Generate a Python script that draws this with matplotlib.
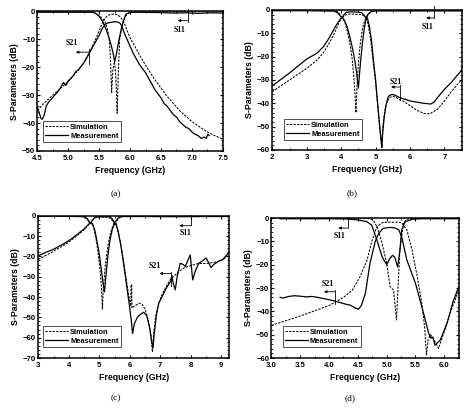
import matplotlib
matplotlib.use('Agg')
import matplotlib.pyplot as plt
from matplotlib.ticker import MultipleLocator, AutoMinorLocator

plt.rcParams['font.family'] = 'Liberation Sans'
plt.rcParams['font.weight'] = 'bold'

# ---------------- panel (a) ----------------
a_f_m21 = [4.50, 4.53, 4.56, 4.58, 4.61, 4.64, 4.68, 4.72, 4.78, 4.84, 4.88, 4.92, 4.96, 5.00,
           5.04, 5.08, 5.12, 5.16, 5.20, 5.25, 5.30, 5.35, 5.40, 5.45, 5.50, 5.54, 5.58, 5.62,
           5.66, 5.70, 5.75, 5.80, 5.84, 5.87, 5.90, 5.95, 6.00, 6.05, 6.10, 6.15, 6.20, 6.25,
           6.30, 6.35, 6.40, 6.45, 6.50, 6.55, 6.60, 6.65, 6.70, 6.75, 6.80, 6.85, 6.90, 6.95,
           7.00, 7.05, 7.10, 7.15, 7.20, 7.23, 7.26, 7.28]
a_m21 = [-34.5, -36.5, -38.5, -38.6, -37.0, -34.0, -32.5, -31.5, -30.0, -28.5, -27.0, -25.5, -26.5, -24.8,
         -24.0, -23.0, -21.5, -21.0, -19.8, -18.5, -16.5, -14.5, -12.5, -10.5, -8.5, -6.5, -5.0, -4.3,
         -4.0, -3.9, -3.7, -3.8, -4.3, -5.5, -7.5, -10.0, -12.5, -15.0, -17.0, -19.0, -20.5, -22.0,
         -24.0, -26.0, -28.0, -29.5, -31.0, -33.0, -34.0, -35.5, -37.0, -37.8, -39.5, -40.5, -41.5, -42.0,
         -43.2, -44.0, -44.5, -45.5, -45.0, -45.5, -44.0, -44.5]
a_f_s21 = [4.5, 4.6, 4.7, 4.8, 4.9, 5.0, 5.1, 5.2, 5.3, 5.4, 5.45, 5.5, 5.55, 5.6, 5.65, 5.7, 5.75,
           5.8, 5.85, 5.9, 5.95, 6.0, 6.1, 6.2, 6.3, 6.4, 6.5, 6.6, 6.7, 6.8, 6.9, 7.0, 7.1, 7.2,
           7.3, 7.4, 7.5]
a_s21 = [-35.5, -33.0, -31.0, -29.0, -27.0, -25.0, -22.5, -20.0, -16.5, -12.0, -9.5, -6.8, -4.2, -2.2,
         -1.3, -1.0, -1.0, -1.2, -2.2, -4.0, -6.8, -9.5, -13.5, -17.5, -21.0, -24.5, -27.5, -30.5,
         -33.0, -35.5, -37.5, -39.5, -41.0, -42.5, -43.8, -44.8, -45.8]
a_f_m11 = [4.5, 5.0, 5.3, 5.40, 5.45, 5.50, 5.56, 5.62, 5.68, 5.72, 5.75, 5.78, 5.82, 5.86, 5.89,
           5.93, 6.0, 6.1, 6.5, 6.7, 6.9, 7.1, 7.3, 7.5]
a_m11 = [-0.3, -0.3, -0.3, -0.3, -0.8, -1.8, -3.8, -7.0, -11.0, -14.5, -18.0, -15.0, -10.0, -6.0, -3.5,
         -1.0, -0.4, -0.3, -0.4, -0.6, -0.5, -0.7, -0.5, -0.6]
a_f_s11 = [4.5, 5.0, 5.35, 5.42, 5.48, 5.54, 5.59, 5.63, 5.66, 5.68, 5.70, 5.72, 5.745, 5.765, 5.78,
           5.79, 5.805, 5.83, 5.87, 5.90, 5.93, 5.97, 6.05, 7.0, 7.5]
a_s11 = [0.0, -0.1, -0.2, -0.5, -1.2, -2.3, -3.6, -6.0, -10.0, -16.0, -29.0, -21.0, -18.0, -22.0, -30.0,
         -36.5, -24.0, -10.0, -5.0, -3.2, -1.6, -0.5, -0.2, -0.1, -0.1]

# ---------------- panel (b) ----------------
b_f_m21 = [2.0, 2.5, 3.0, 3.3, 3.5, 3.65, 3.8, 3.92, 4.02, 4.1, 4.18, 4.26, 4.33, 4.40, 4.45, 4.50,
           4.53, 4.57, 4.62, 4.67, 4.72, 4.76, 4.82, 4.88, 4.94, 5.0, 5.07, 5.12, 5.16, 5.18, 5.21,
           5.25, 5.3, 5.37, 5.45, 5.5, 5.6, 5.7, 5.8, 6.0, 6.2, 6.4, 6.6, 6.7, 6.8, 7.0, 7.2, 7.4, 7.5]
b_m21 = [-32.5, -27.0, -21.0, -18.5, -15.5, -12.0, -8.0, -5.0, -3.1, -4.5, -7.5, -12.0, -16.5, -22.0,
         -27.0, -33.5, -28.0, -21.0, -14.0, -8.0, -4.0, -3.3, -7.0, -13.0, -22.0, -30.0, -42.0, -50.0,
         -56.0, -59.0, -52.0, -46.0, -41.0, -37.0, -36.3, -36.2, -36.8, -37.6, -38.0, -39.0, -39.5,
         -40.0, -40.3, -39.5, -37.5, -34.0, -31.0, -27.5, -25.7]
b_f_s21 = [2.0, 2.5, 3.0, 3.3, 3.5, 3.7, 3.85, 3.95, 4.03, 4.1, 4.18, 4.26, 4.32, 4.37, 4.41, 4.43,
           4.46, 4.5, 4.55, 4.62, 4.68, 4.73, 4.78, 4.85, 4.92, 5.0, 5.07, 5.12, 5.16, 5.18, 5.21,
           5.25, 5.3, 5.4, 5.5, 5.6, 5.7, 5.8, 6.0, 6.2, 6.4, 6.5, 6.6, 6.8, 7.0, 7.2, 7.4, 7.5]
b_s21 = [-35.0, -30.0, -25.0, -21.5, -18.0, -13.0, -8.5, -5.0, -3.3, -5.0, -9.0, -15.0, -21.0, -29.0,
         -38.0, -44.0, -33.0, -23.0, -15.0, -8.0, -4.5, -3.3, -6.0, -12.0, -21.0, -31.0, -42.0, -50.0,
         -56.0, -58.0, -50.0, -45.0, -40.5, -37.5, -37.0, -37.5, -38.5, -39.0, -41.0, -43.0, -44.3,
         -44.5, -44.3, -42.5, -39.0, -35.0, -31.5, -30.0]
b_f_m11 = [2.0, 3.0, 3.8, 3.9, 3.97, 4.02, 4.07, 4.15, 4.3, 4.5, 4.6, 4.67, 4.72, 4.77, 4.85, 5.0,
           6.0, 7.0, 7.5]
b_m11 = [-0.3, -0.3, -0.5, -1.2, -2.5, -3.5, -2.2, -1.0, -0.8, -0.9, -1.2, -2.3, -3.5, -2.0, -0.8,
         -0.4, -0.4, -0.4, -0.4]
b_f_s11 = [2.0, 3.0, 3.8, 3.9, 3.97, 4.03, 4.1, 4.2, 4.4, 4.6, 4.67, 4.73, 4.78, 4.88, 5.0, 6.0, 7.5]
b_s11 = [0.0, 0.0, 0.0, -0.8, -2.0, -3.6, -2.3, -1.8, -1.8, -2.0, -2.6, -3.6, -2.0, -0.6, -0.1,
         -0.1, -0.1]

# ---------------- panel (c) ----------------
c_f_m21 = [3.0, 3.25, 3.5, 3.75, 4.0, 4.25, 4.5, 4.6, 4.7, 4.78, 4.85, 4.93, 5.0, 5.07, 5.12, 5.17,
           5.22, 5.28, 5.35, 5.42, 5.5, 5.55, 5.62, 5.7, 5.8, 5.9, 5.99, 6.05, 6.09, 6.15, 6.25,
           6.35, 6.45, 6.55, 6.65, 6.72, 6.76, 6.8, 6.88, 6.95, 7.05, 7.2, 7.33, 7.38, 7.42, 7.49,
           7.55, 7.65, 7.75, 7.82, 7.9, 7.98, 8.06, 8.15, 8.26, 8.4, 8.5, 8.58, 8.66, 8.75, 8.9,
           9.05, 9.25]
c_m21 = [-19.7, -18.0, -16.5, -14.5, -12.3, -9.5, -6.5, -5.0, -3.5, -4.0, -7.0, -13.0, -19.0, -27.0,
         -33.0, -37.5, -29.0, -20.0, -12.0, -7.0, -3.8, -4.2, -8.0, -14.0, -24.0, -35.0, -44.5, -52.0,
         -58.0, -53.0, -50.0, -48.5, -47.5, -49.0, -55.0, -62.0, -65.0, -58.0, -48.0, -43.0, -40.0,
         -35.5, -32.5, -29.5, -33.0, -36.5, -30.0, -23.4, -24.0, -25.0, -22.0, -19.3, -31.6, -27.0,
         -23.4, -22.0, -20.8, -23.0, -25.5, -24.0, -22.5, -21.5, -18.0]
c_f_s21 = [3.0, 3.5, 4.0, 4.5, 4.7, 4.8, 4.88, 4.95, 5.02, 5.07, 5.10, 5.13, 5.2, 5.28, 5.36, 5.44,
           5.5, 5.57, 5.65, 5.75, 5.85, 5.95, 6.03, 6.04, 6.06, 6.07, 6.1, 6.2, 6.3, 6.4, 6.5, 6.6,
           6.68, 6.74, 6.78, 6.85, 6.95, 7.05, 7.2, 7.35, 7.5, 7.65, 7.8, 8.0, 8.25, 8.5, 8.75, 9.0, 9.25]
c_s21 = [-21.5, -17.5, -13.0, -7.0, -3.5, -5.0, -10.0, -17.0, -26.0, -35.0, -46.0, -36.0, -24.0, -15.0,
         -9.0, -5.0, -3.5, -5.0, -10.0, -18.0, -28.0, -38.0, -44.5, -34.0, -34.0, -45.5, -45.0, -44.0,
         -43.0, -43.5, -46.0, -51.0, -58.0, -67.0, -58.0, -49.0, -43.0, -39.0, -34.5, -31.0, -29.0,
         -27.0, -25.5, -24.5, -23.5, -23.5, -23.0, -22.0, -19.5]
c_f_m11 = [3.0, 4.0, 4.5, 4.6, 4.67, 4.72, 4.78, 4.85, 5.0, 5.35, 5.42, 5.5, 5.57, 5.65, 5.8, 6.5,
           7.5, 8.5, 9.25]
c_m11 = [-0.3, -0.3, -0.5, -1.5, -3.0, -3.5, -2.0, -0.8, -0.5, -0.5, -1.5, -3.5, -2.0, -0.7, -0.4,
         -0.4, -0.5, -0.4, -0.4]
c_f_s11 = [3.0, 4.0, 4.5, 4.6, 4.67, 4.72, 4.78, 4.88, 5.0, 5.3, 5.4, 5.47, 5.52, 5.58, 5.66, 5.8,
           6.5, 9.25]
c_s11 = [0.0, 0.0, -0.3, -1.2, -3.2, -4.2, -2.2, -0.9, -0.6, -0.8, -1.8, -3.6, -4.5, -2.5, -0.9,
         -0.2, -0.1, -0.1]

# ---------------- panel (d) ----------------
d_f_m21 = [3.15, 3.2, 3.3, 3.4, 3.5, 3.6, 3.7, 3.8, 3.9, 4.0, 4.1, 4.2, 4.3, 4.365, 4.45, 4.51, 4.56,
           4.63, 4.71, 4.80, 4.86, 4.94, 5.06, 5.15, 5.21, 5.26, 5.35, 5.5, 5.61, 5.73, 5.77, 5.80,
           5.84, 5.88, 5.93, 6.05, 6.15, 6.25]
d_m21 = [-34.0, -34.3, -33.6, -33.3, -33.5, -33.8, -33.6, -34.0, -34.5, -35.0, -35.6, -36.3, -37.0,
         -37.3, -38.5, -39.1, -37.5, -32.3, -19.4, -10.1, -6.6, -4.4, -4.0, -4.3, -5.1, -8.0, -18.0,
         -28.0, -38.0, -49.4, -51.5, -51.0, -54.5, -53.5, -52.3, -45.0, -36.0, -29.5]
d_f_s21 = [3.0, 3.5, 4.0, 4.25, 4.4, 4.54, 4.66, 4.74, 4.83, 4.92, 5.0, 5.1, 5.2, 5.26, 5.35, 5.44,
           5.53, 5.61, 5.66, 5.69, 5.72, 5.76, 5.81, 5.86, 5.90, 5.99, 6.10, 6.25]
d_s21 = [-46.0, -42.0, -37.5, -34.0, -31.0, -25.0, -18.0, -10.1, -3.7, -2.0, -1.8, -1.8, -1.8, -2.0,
         -5.1, -13.7, -25.0, -36.6, -47.0, -58.7, -52.0, -50.0, -51.6, -54.0, -55.9, -49.4, -40.8, -31.0]
d_f_m11 = [3.15, 3.5, 4.0, 4.3, 4.5, 4.65, 4.74, 4.83, 4.92, 5.0, 5.05, 5.1, 5.14, 5.19, 5.23, 5.26,
           5.32, 5.45, 5.6, 6.0, 6.25]
d_m11 = [-0.3, -0.3, -0.3, -0.4, -0.8, -1.5, -3.0, -9.4, -16.6, -20.0, -17.5, -16.0, -16.8, -21.0,
         -13.7, -5.1, -1.6, -0.5, -0.3, -0.3, -0.3]
d_f_s11 = [3.0, 4.0, 4.6, 4.7, 4.76, 4.84, 4.92, 5.0, 5.06, 5.12, 5.17, 5.20, 5.23, 5.29, 5.35,
           5.5, 6.25]
d_s11 = [0.0, 0.0, -0.1, -0.3, -0.8, -4.0, -10.9, -19.4, -29.4, -30.9, -43.7, -28.0, -13.7, -2.3,
         -0.5, -0.1, 0.0]

panels = [
    dict(pos=[0.0801, 0.630, 0.396, 0.342], xlim=(4.5, 7.5), ylim=(-50, 0), xmaj=0.5, ymaj=10,
         xfmt='%.1f', data=(a_f_s21, a_s21, a_f_m21, a_m21, a_f_s11, a_s11, a_f_m11, a_m11),
         s21=((5.05, -11.4), 5.33, 5.12, -14.6, (-13.6, -18.8)),
         s11=((6.80, -6.6), 6.93, 6.77, -3.3, (0.8, -3.7)),
         leg=(0.03, 0.065), lab='(a)', labpos=(116, 194)),
    dict(pos=[0.5818, 0.6324, 0.4047, 0.3431], xlim=(2, 7.5), ylim=(-60, 0), xmaj=1, ymaj=10,
         xfmt='%d', data=(b_f_s21, b_s21, b_f_m21, b_m21, b_f_s11, b_s11, b_f_m11, b_m11),
         s21=((5.59, -30.9), 5.70, 5.45, -33.0, (-32.0, -38.6)),
         s11=((6.50, -7.2), 6.70, 6.47, -3.4, (1.5, -3.6)),
         leg=(0.062, 0.071), lab='(b)', labpos=(352, 193)),
    dict(pos=[0.0818, 0.1225, 0.4075, 0.3488], xlim=(3, 9.25), ylim=(-70, 0), xmaj=1, ymaj=10,
         xfmt='%d', data=(c_f_s21, c_s21, c_f_m21, c_m21, c_f_s11, c_s11, c_f_m11, c_m11),
         s21=((6.83, -24.6), 7.36, 6.97, -28.4, (-27.9, -34.4)),
         s11=((7.82, -8.3), 8.02, 7.62, -4.9, (0.5, -4.4)),
         leg=(0.025, 0.077), lab='(c)', labpos=(116, 398)),
    dict(pos=[0.5801, 0.1225, 0.4000, 0.3431], xlim=(3.0, 6.25), ylim=(-60, 0), xmaj=0.5, ymaj=10,
         xfmt='%.1f', data=(d_f_s21, d_s21, d_f_m21, d_m21, d_f_s11, d_s11, d_f_m11, d_m11),
         s21=((3.98, -28.3), 4.10, 3.91, -31.6, (-30.9, -36.9)),
         s11=((4.19, -7.7), 4.32, 4.16, -4.3, (0.6, -4.3)),
         leg=(0.061, 0.079), lab='(d)', labpos=(350, 398)),
]

fig = plt.figure(figsize=(4.68, 4.08), dpi=100)

dash = (0, (2.2, 1.2))
for p in panels:
    ax = fig.add_axes(p['pos'])
    fs21, s21, fm21, m21, fs11, s11, fm11, m11 = p['data']
    ls, = ax.plot(fs21, s21, color='black', lw=0.75, linestyle=dash, label='Simulation')
    lm, = ax.plot(fm21, m21, color='black', lw=0.9, label='Measurement')
    ax.plot(fs11, s11, color='black', lw=0.75, linestyle=dash)
    ax.plot(fm11, m11, color='black', lw=0.9)

    ax.set_xlim(p['xlim'])
    ax.set_ylim(p['ylim'])
    ax.xaxis.set_major_locator(MultipleLocator(p['xmaj']))
    ax.xaxis.set_minor_locator(AutoMinorLocator(2))
    ax.yaxis.set_major_locator(MultipleLocator(p['ymaj']))
    ax.yaxis.set_minor_locator(AutoMinorLocator(5))
    ax.xaxis.set_major_formatter(matplotlib.ticker.FormatStrFormatter(p['xfmt']))
    ax.tick_params(which='both', direction='in', top=True, right=True, labelsize=5.6)
    ax.tick_params(axis='x', pad=2.6)
    ax.tick_params(axis='y', pad=1.6)
    ax.tick_params(which='major', length=2.5, width=0.8)
    ax.tick_params(which='minor', length=1.3, width=0.6)
    for sp in ax.spines.values():
        sp.set_linewidth(1.1)

    ax.set_xlabel('Frequency (GHz)', fontsize=6.3, fontweight='bold', labelpad=3.5)
    ax.set_ylabel('S-Parameters (dB)', fontsize=6.3, fontweight='bold', labelpad=2)

    # curve identifiers with arrows and brackets
    for key, txt in (('s21', 'S21'), ('s11', 'S11')):
        (tx, ty), xb, xh, ya, (yb1, yb2) = p[key]
        ax.text(tx, ty, txt, family='Liberation Serif', fontsize=5.8, fontweight='bold',
                ha='center', va='center')
        ax.annotate('', xy=(xh, ya), xytext=(xb, ya),
                    arrowprops=dict(arrowstyle='-|>', lw=0.6, color='black',
                                    mutation_scale=4, shrinkA=0, shrinkB=0))
        ax.plot([xb, xb], [yb1, yb2], color='black', lw=0.6, clip_on=False)

    leg = ax.legend(handles=[ls, lm], loc='lower left', bbox_to_anchor=p['leg'],
                    fontsize=5.4, frameon=True, fancybox=False, edgecolor='black',
                    handlelength=3.0, handletextpad=0.3, borderpad=0.3, labelspacing=0.25,
                    borderaxespad=0)
    leg.get_frame().set_linewidth(0.6)

    fig.text(p['labpos'][0] / 468, 1 - p['labpos'][1] / 408, p['lab'],
             family='Liberation Serif', fontweight='normal', fontsize=6.8,
             ha='center', va='center')

fig.savefig('out.png', dpi=100)
